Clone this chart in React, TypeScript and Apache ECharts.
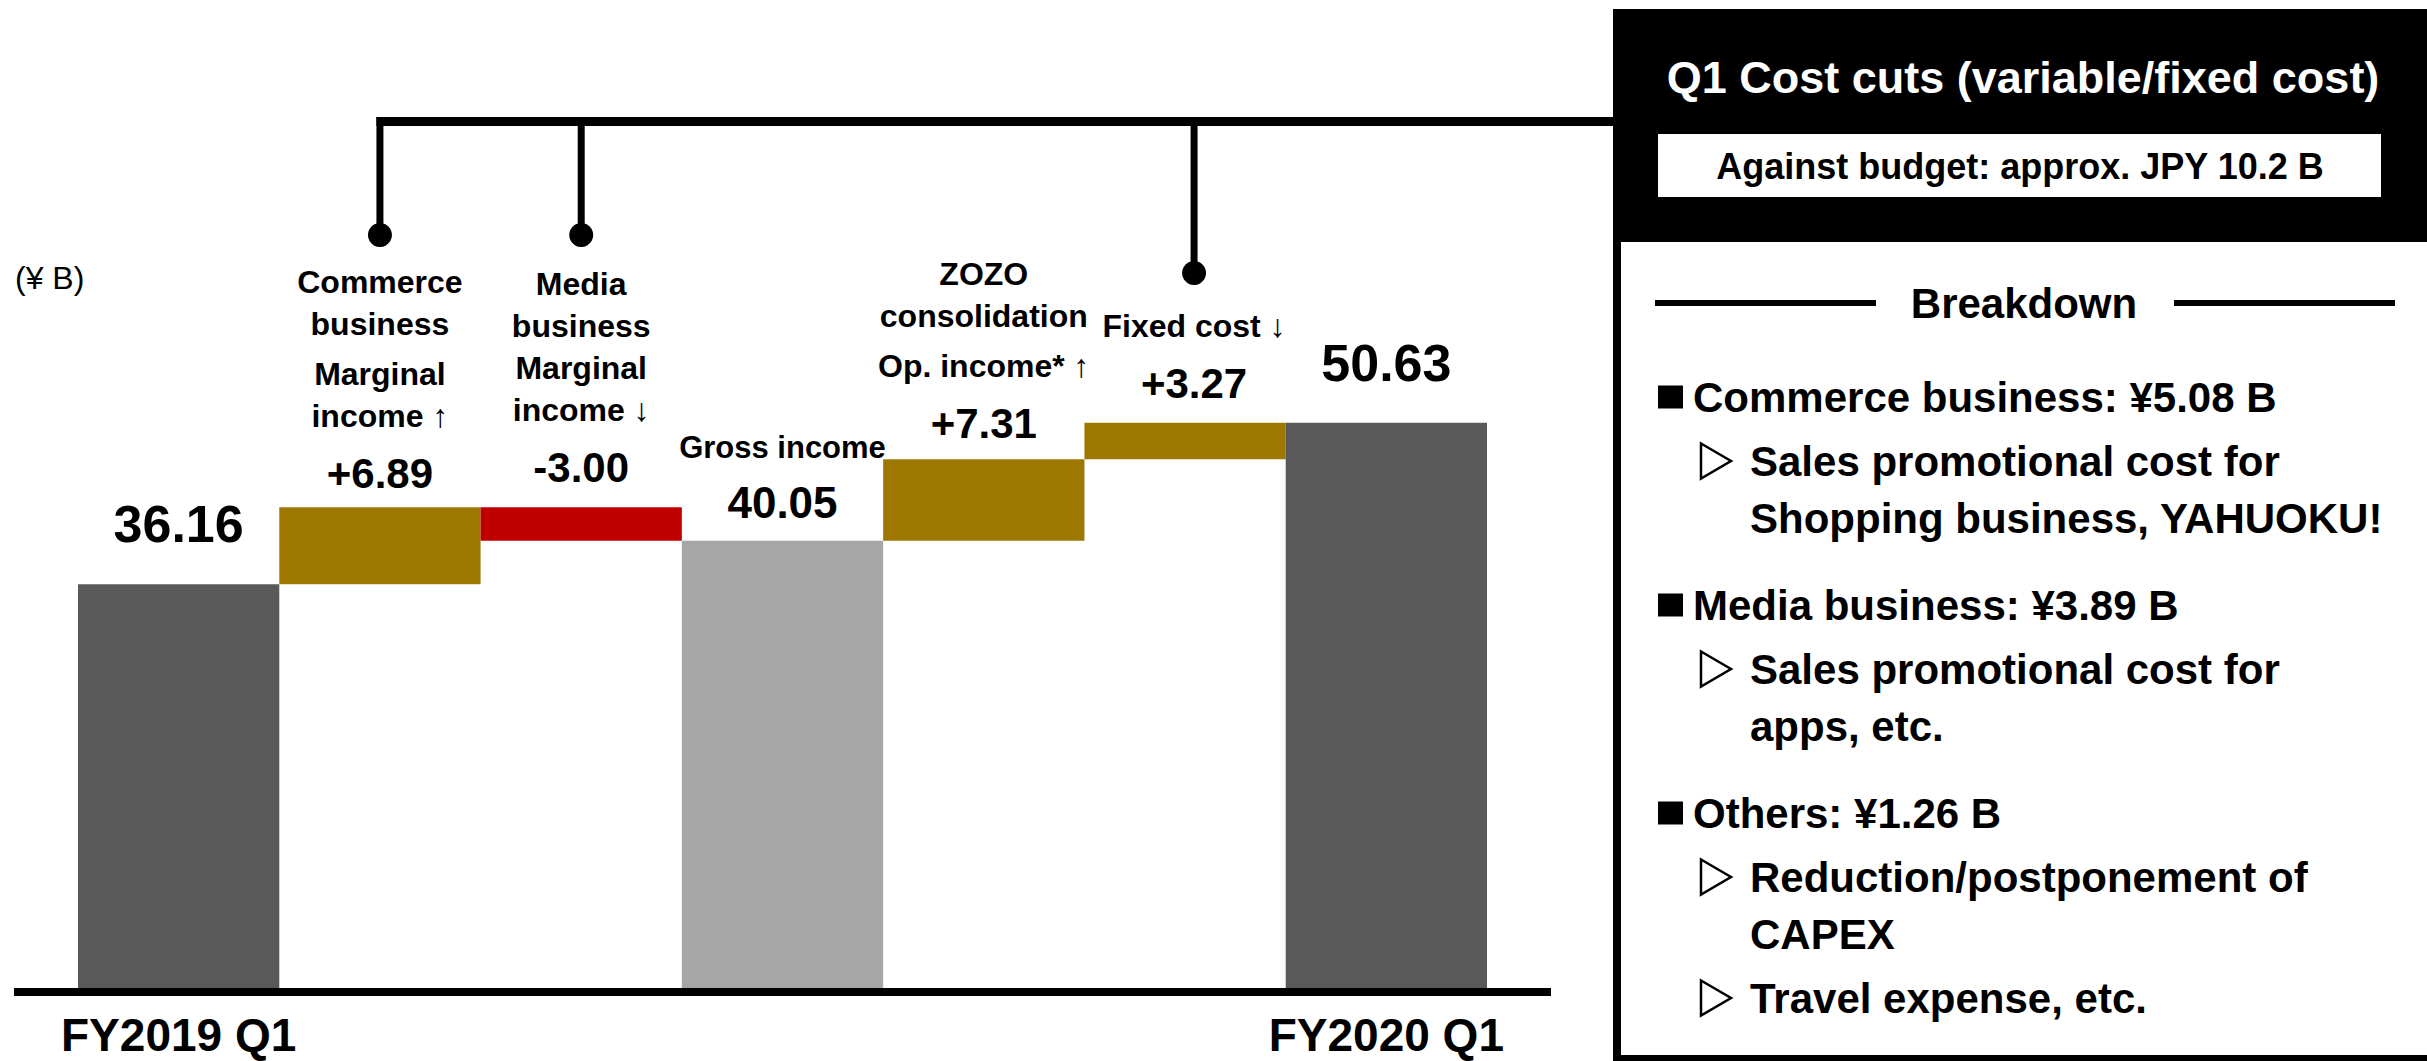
import React, { useEffect, useRef } from 'react';
import * as echarts from 'echarts';

// ---------------- data ----------------
const categories = [
  'FY2019 Q1',
  'Commerce business marginal income',
  'Media business marginal income',
  'Gross income',
  'ZOZO consolidation op. income',
  'Fixed cost',
  'FY2020 Q1',
];
const xTickLabels = ['FY2019 Q1', '', '', '', '', '', 'FY2020 Q1'];
const barValues = [36.16, 6.89, -3.0, 40.05, 7.31, 3.27, 50.63];
const barKinds = ['total', 'delta', 'delta', 'subtotal', 'delta', 'delta', 'total'];
const subtotalCaption = 'Gross income';
const barNotes: string[][][] = [
  [],
  [['Commerce', 'business'], ['Marginal', 'income ↑']],
  [['Media', 'business', 'Marginal', 'income ↓']],
  [],
  [['ZOZO', 'consolidation'], ['Op. income* ↑']],
  [['Fixed cost ↓']],
  [],
];
const bracketCats = [1, 2, 5];
const unitLabel = '(¥ B)';
const panelTitle = 'Q1 Cost cuts (variable/fixed cost)';
const panelSubtitle = 'Against budget: approx. JPY 10.2 B';
const breakdownTitle = 'Breakdown';
const breakdownHeads = ['Commerce business: ¥5.08 B', 'Media business: ¥3.89 B', 'Others: ¥1.26 B'];
const breakdownSubs: string[][][] = [
  [['Sales promotional cost for', 'Shopping business, YAHUOKU!']],
  [['Sales promotional cost for', 'apps, etc.']],
  [['Reduction/postponement of', 'CAPEX'], ['Travel expense, etc.']],
];

// ---------------- styles ----------------
const FONT = "'Liberation Sans', Arial, Helvetica, sans-serif";
const C_TOTAL = '#595959';
const C_SUB = '#A6A6A6';
const C_UP = '#9E7700';
const C_DOWN = '#C00000';
const deltaLabelDistance = [0, 13, 19, 0, 15, 18, 0];
const labelDx = [0, 0, 0, 0, 0, 9, 0];
const bracketDotY: Record<number, number> = { 1: 235, 2: 235, 5: 273 };

export default function App() {
  const ref = useRef<HTMLDivElement>(null);

  useEffect(() => {
    document.body.style.margin = '0';
    const chart = echarts.init(ref.current!, null, { renderer: 'svg' });

    const base: number[] = [];
    const height: number[] = [];
    const colors: string[] = [];
    const labels: string[] = [];
    let running = 0;
    barValues.forEach((v, i) => {
      const k = barKinds[i];
      if (k === 'delta') {
        if (v >= 0) {
          base.push(running);
          height.push(v);
        } else {
          base.push(running + v);
          height.push(-v);
        }
        running = Math.round((running + v) * 100) / 100;
        colors.push(v >= 0 ? C_UP : C_DOWN);
        labels.push((v > 0 ? '+' : '') + v.toFixed(2));
      } else {
        base.push(0);
        height.push(v);
        running = v;
        colors.push(k === 'total' ? C_TOTAL : C_SUB);
        labels.push(v.toFixed(2));
      }
    });

    const visibleData = height.map((h, i) => {
      const k = barKinds[i];
      let label: any;
      if (k === 'total') {
        label = {
          show: true,
          position: 'top',
          distance: 34,
          formatter: labels[i],
          fontSize: 52,
          lineHeight: 52,
          fontWeight: 'bold',
          color: '#000',
        };
      } else if (k === 'subtotal') {
        label = {
          show: true,
          position: 'top',
          distance: 16,
          formatter: `{g|${subtotalCaption}}\n{v|${labels[i]}}`,
          rich: {
            g: { fontSize: 31, lineHeight: 66, fontWeight: 'bold', color: '#000', fontFamily: FONT },
            v: { fontSize: 44, lineHeight: 44, fontWeight: 'bold', color: '#000', fontFamily: FONT },
          },
        };
      } else {
        label = {
          show: true,
          position: 'top',
          distance: deltaLabelDistance[i],
          offset: [labelDx[i], 0],
          formatter: labels[i],
          fontSize: 42,
          lineHeight: 42,
          fontWeight: 'bold',
          color: '#000',
        };
      }
      return { value: h, itemStyle: { color: colors[i] }, label };
    });

    const option: any = {
      animation: false,
      backgroundColor: '#fff',
      textStyle: { fontFamily: FONT },
      grid: { left: 78, right: 940, top: 318, bottom: 73 },
      xAxis: {
        type: 'category',
        data: categories,
        axisLine: { show: false },
        axisTick: { show: false },
        axisLabel: {
          interval: 0,
          margin: 24,
          fontSize: 46,
          lineHeight: 46,
          fontWeight: 'bold',
          color: '#000',
          formatter: (_v: string, idx: number) => xTickLabels[idx],
        },
      },
      yAxis: {
        type: 'value',
        min: 0,
        max: 60,
        show: false,
        splitLine: { show: false },
      },
      series: [
        {
          type: 'bar',
          stack: 'w',
          data: base,
          barWidth: '100%',
          barCategoryGap: '0%',
          itemStyle: { color: 'rgba(0,0,0,0)' },
          silent: true,
        },
        {
          type: 'bar',
          stack: 'w',
          data: visibleData,
          barWidth: '100%',
          barCategoryGap: '0%',
        },
      ],
    };
    chart.setOption(option);

    const xOf = (i: number) => chart.convertToPixel({ xAxisIndex: 0 }, i) as number;
    const yOf = (v: number) => chart.convertToPixel({ yAxisIndex: 0 }, v) as number;

    const g: any[] = [];
    const PANEL_X = 1613;

    // baseline
    const y0 = yOf(0);
    g.push({
      type: 'line',
      shape: { x1: 14, y1: y0 + 4, x2: 1551, y2: y0 + 4 },
      style: { stroke: '#000', lineWidth: 8 },
      z: 10,
    });

    // unit label
    g.push({
      type: 'text',
      x: 15,
      y: 278,
      style: { text: unitLabel, fontSize: 32, fontFamily: FONT, fill: '#000', textVerticalAlign: 'middle' },
    });

    // notes above delta bars
    barNotes.forEach((paras, i) => {
      if (!paras.length) return;
      const top = base[i] + height[i];
      const valueCenter = yOf(top) - deltaLabelDistance[i] - 21;
      let y = valueCenter - 57.5;
      const cx = xOf(i) + labelDx[i];
      for (let p = paras.length - 1; p >= 0; p--) {
        const lines = paras[p];
        for (let l = lines.length - 1; l >= 0; l--) {
          g.push({
            type: 'text',
            x: cx,
            y,
            style: {
              text: lines[l],
              fontSize: 32,
              fontWeight: 'bold',
              fontFamily: FONT,
              fill: '#000',
              textAlign: 'center',
              textVerticalAlign: 'middle',
            },
          });
          if (l > 0) y -= 42;
        }
        y -= 50;
      }
    });

    // bracket
    const bx0 = xOf(bracketCats[0]) + labelDx[bracketCats[0]];
    g.push({
      type: 'line',
      shape: { x1: bx0 - 3.5, y1: 121.5, x2: PANEL_X + 4, y2: 121.5 },
      style: { stroke: '#000', lineWidth: 9 },
    });
    bracketCats.forEach((c) => {
      const x = xOf(c) + labelDx[c];
      const dy = bracketDotY[c];
      g.push({
        type: 'line',
        shape: { x1: x, y1: 117, x2: x, y2: dy },
        style: { stroke: '#000', lineWidth: 7 },
      });
      g.push({ type: 'circle', shape: { cx: x, cy: dy, r: 12 }, style: { fill: '#000' } });
    });

    // panel
    g.push({
      type: 'rect',
      shape: { x: PANEL_X + 4, y: 13, width: 1000, height: 1046 },
      style: { fill: '#fff', stroke: '#000', lineWidth: 8 },
      z: 20,
    });
    g.push({
      type: 'rect',
      shape: { x: PANEL_X, y: 9, width: 1000, height: 233 },
      style: { fill: '#000' },
      z: 21,
    });
    g.push({
      type: 'text',
      x: 2023,
      y: 77,
      style: {
        text: panelTitle,
        fontSize: 45,
        fontWeight: 'bold',
        fontFamily: FONT,
        fill: '#fff',
        textAlign: 'center',
        textVerticalAlign: 'middle',
      },
      z: 22,
    });
    g.push({
      type: 'rect',
      shape: { x: 1658, y: 134, width: 723, height: 63 },
      style: { fill: '#fff' },
      z: 22,
    });
    g.push({
      type: 'text',
      x: 2020,
      y: 166,
      style: {
        text: panelSubtitle,
        fontSize: 36,
        fontWeight: 'bold',
        fontFamily: FONT,
        fill: '#000',
        textAlign: 'center',
        textVerticalAlign: 'middle',
      },
      z: 23,
    });
    // breakdown heading
    g.push({
      type: 'line',
      shape: { x1: 1655, y1: 303, x2: 1876, y2: 303 },
      style: { stroke: '#000', lineWidth: 6 },
      z: 22,
    });
    g.push({
      type: 'line',
      shape: { x1: 2174, y1: 303, x2: 2395, y2: 303 },
      style: { stroke: '#000', lineWidth: 6 },
      z: 22,
    });
    g.push({
      type: 'text',
      x: 2024,
      y: 303,
      style: {
        text: breakdownTitle,
        fontSize: 42,
        fontWeight: 'bold',
        fontFamily: FONT,
        fill: '#000',
        textAlign: 'center',
        textVerticalAlign: 'middle',
      },
      z: 22,
    });

    // bullet list
    let y = 397;
    const txt = (text: string, x: number, yy: number) => ({
      type: 'text',
      x,
      y: yy,
      style: {
        text,
        fontSize: 42,
        fontWeight: 'bold',
        fontFamily: FONT,
        fill: '#000',
        textVerticalAlign: 'middle',
      },
      z: 22,
    });
    breakdownHeads.forEach((head, hi) => {
      if (hi > 0) y += 87;
      g.push({ type: 'rect', shape: { x: 1658, y: y - 11.5, width: 25, height: 23 }, style: { fill: '#000' }, z: 22 });
      g.push(txt(head, 1693, y));
      breakdownSubs[hi].forEach((sub) => {
        y += 64;
        g.push({
          type: 'polygon',
          shape: { points: [[1701, y - 17.5], [1731, y], [1701, y + 17.5]] },
          style: { fill: 'none', stroke: '#000', lineWidth: 2.5 },
          z: 22,
        });
        sub.forEach((line, li) => {
          if (li > 0) y += 57;
          g.push(txt(line, 1750, y));
        });
      });
    });

    chart.setOption({ graphic: g });

    return () => chart.dispose();
  }, []);

  return <div ref={ref} style={{ width: 2427, height: 1061 }} />;
}
